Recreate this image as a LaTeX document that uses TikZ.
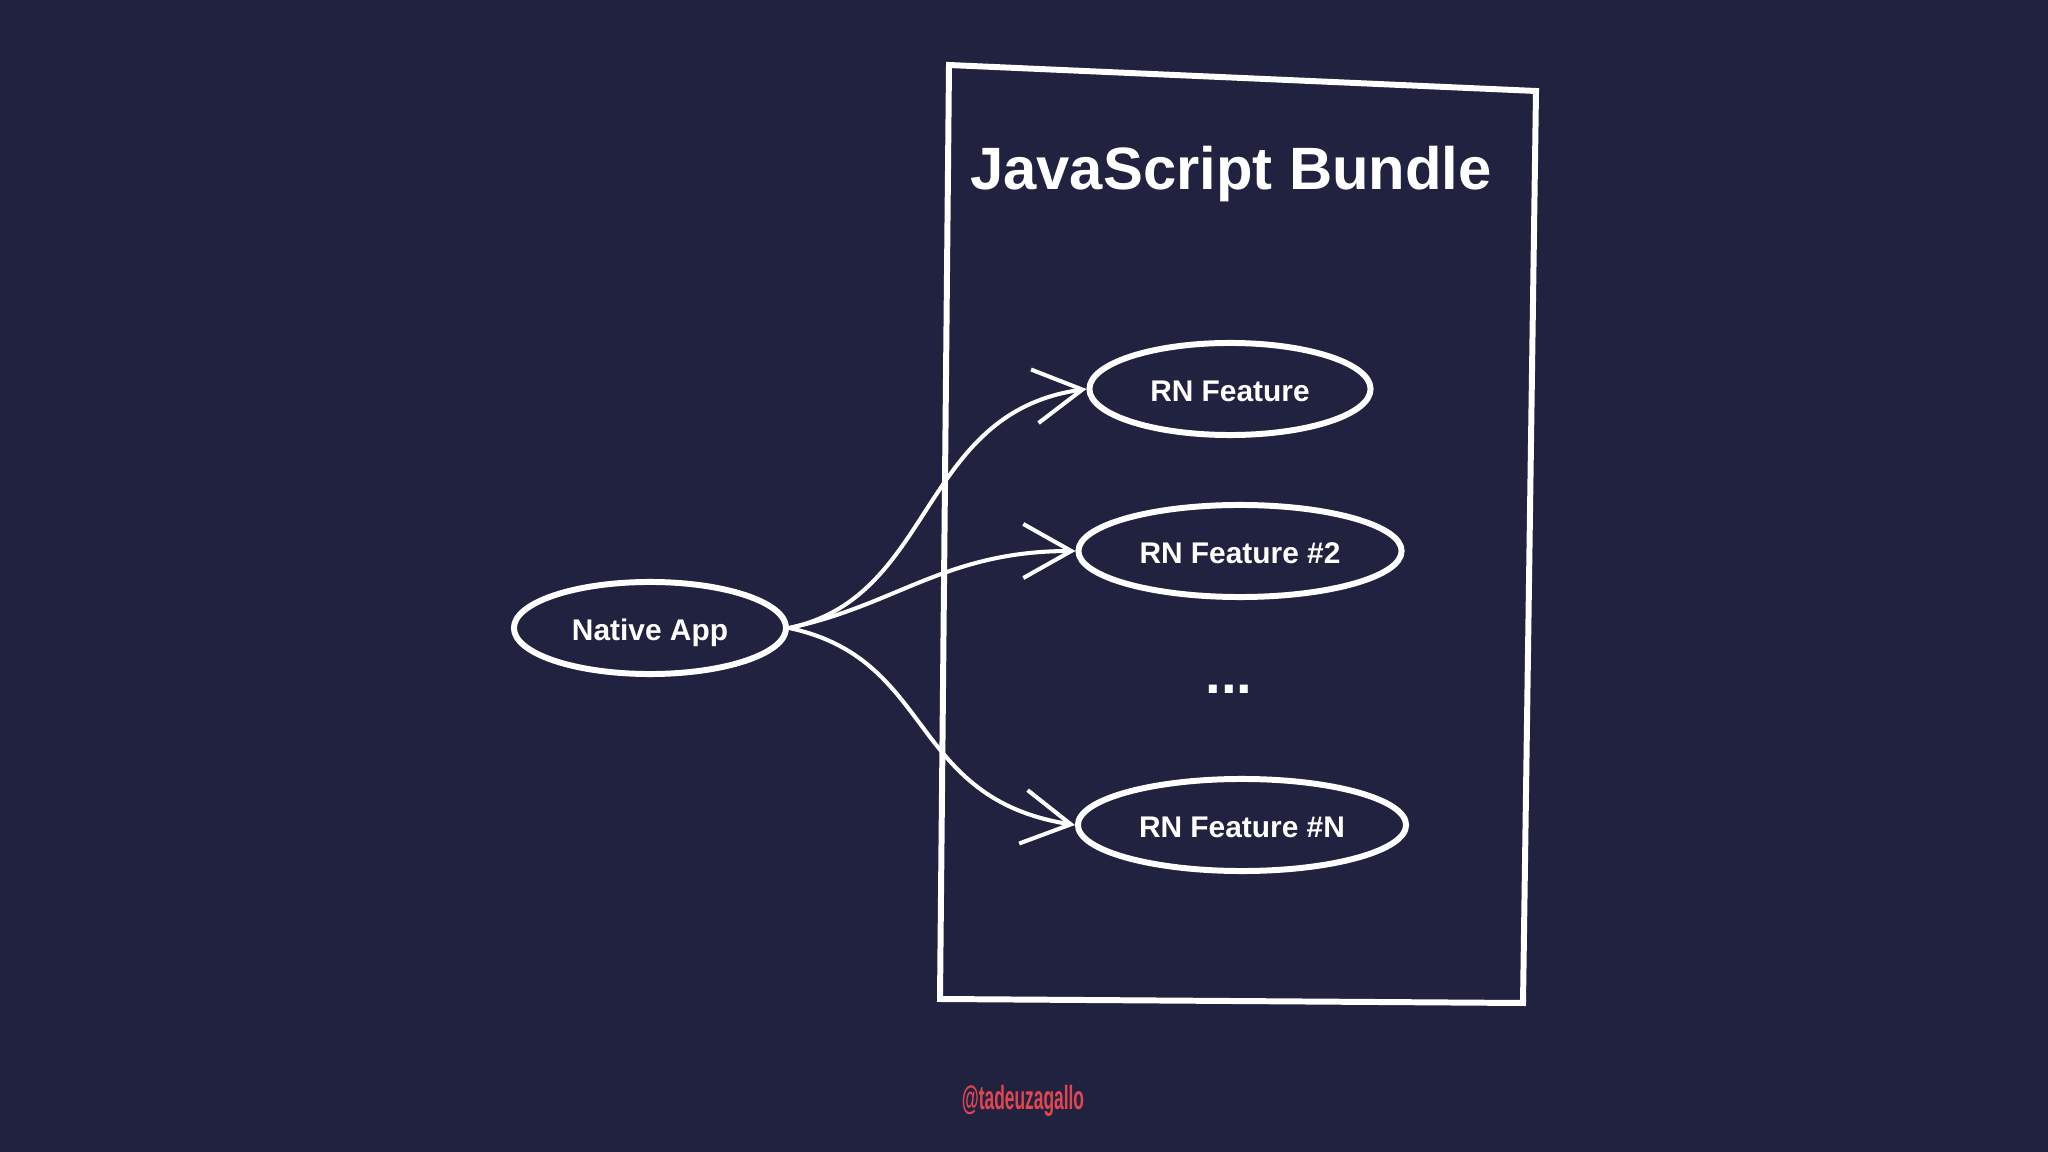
\documentclass[tikz,border=0pt]{standalone}
\usepackage{fontspec}
\setmainfont{Liberation Sans}
\usepackage{xcolor}
\usetikzlibrary{arrows.meta,shapes.geometric,positioning}
\definecolor{slidebg}{RGB}{33,34,64}
\definecolor{handlered}{RGB}{226,70,80}
\tikzset{
  feature/.style={ellipse,draw=white,line width=1.7pt,inner sep=0pt,
    text=white,font=\fontsize{8.5}{10}\selectfont\bfseries,
    minimum height=0.92cm,text height=1.6ex,text depth=0.3ex},
  link/.style={white,line width=1.15pt,->}
}
\begin{document}
\begin{tikzpicture}[line cap=round,line join=round,
  >={Straight Barb[length=4.8mm,width=5.4mm]},x=0.01cm,y=-0.01cm]
\fill[slidebg] (0,0) rectangle (2048,1152);
\useasboundingbox (0,0) rectangle (2048,1152);
% bundle box
\draw[white,line width=1.7pt,line join=miter] (949,65) -- (1536,91) -- (1523,1003) -- (940,999) -- cycle;
\node[text=white,font=\fontsize{17}{20}\selectfont\bfseries] (title) at (1231,174) {JavaScript Bundle};
% nodes
\node[feature,minimum width=2.72cm] (app) at (650,628) {Native App};
\node[feature,minimum width=2.81cm] (rn1) at (1230,389) {RN Feature};
\node[feature,minimum width=3.23cm] (rn2) at (1240,551) {RN Feature \#2};
\node[feature,minimum width=3.28cm] (rnN) at (1242,825) {RN Feature \#N};
\node[text=white,font=\fontsize{16}{18}\selectfont\bfseries] (dots) at (1229,689) {...};
% links
\draw[link] (app.east) .. controls +(-12:150) and +(172:170) .. (rn1.west);
\draw[link] (app.east) .. controls +(-12:110) and +(180:130) .. (rn2.west);
\draw[link] (app.east) .. controls +(12:150) and +(189:170) .. (rnN.west);
\node[text=handlered,font=\fontsize{9.5}{11}\selectfont\bfseries] (handle) at (1023,1101) {\scalebox{0.52}[1]{@tadeuzagallo}};
\end{tikzpicture}
\end{document}
